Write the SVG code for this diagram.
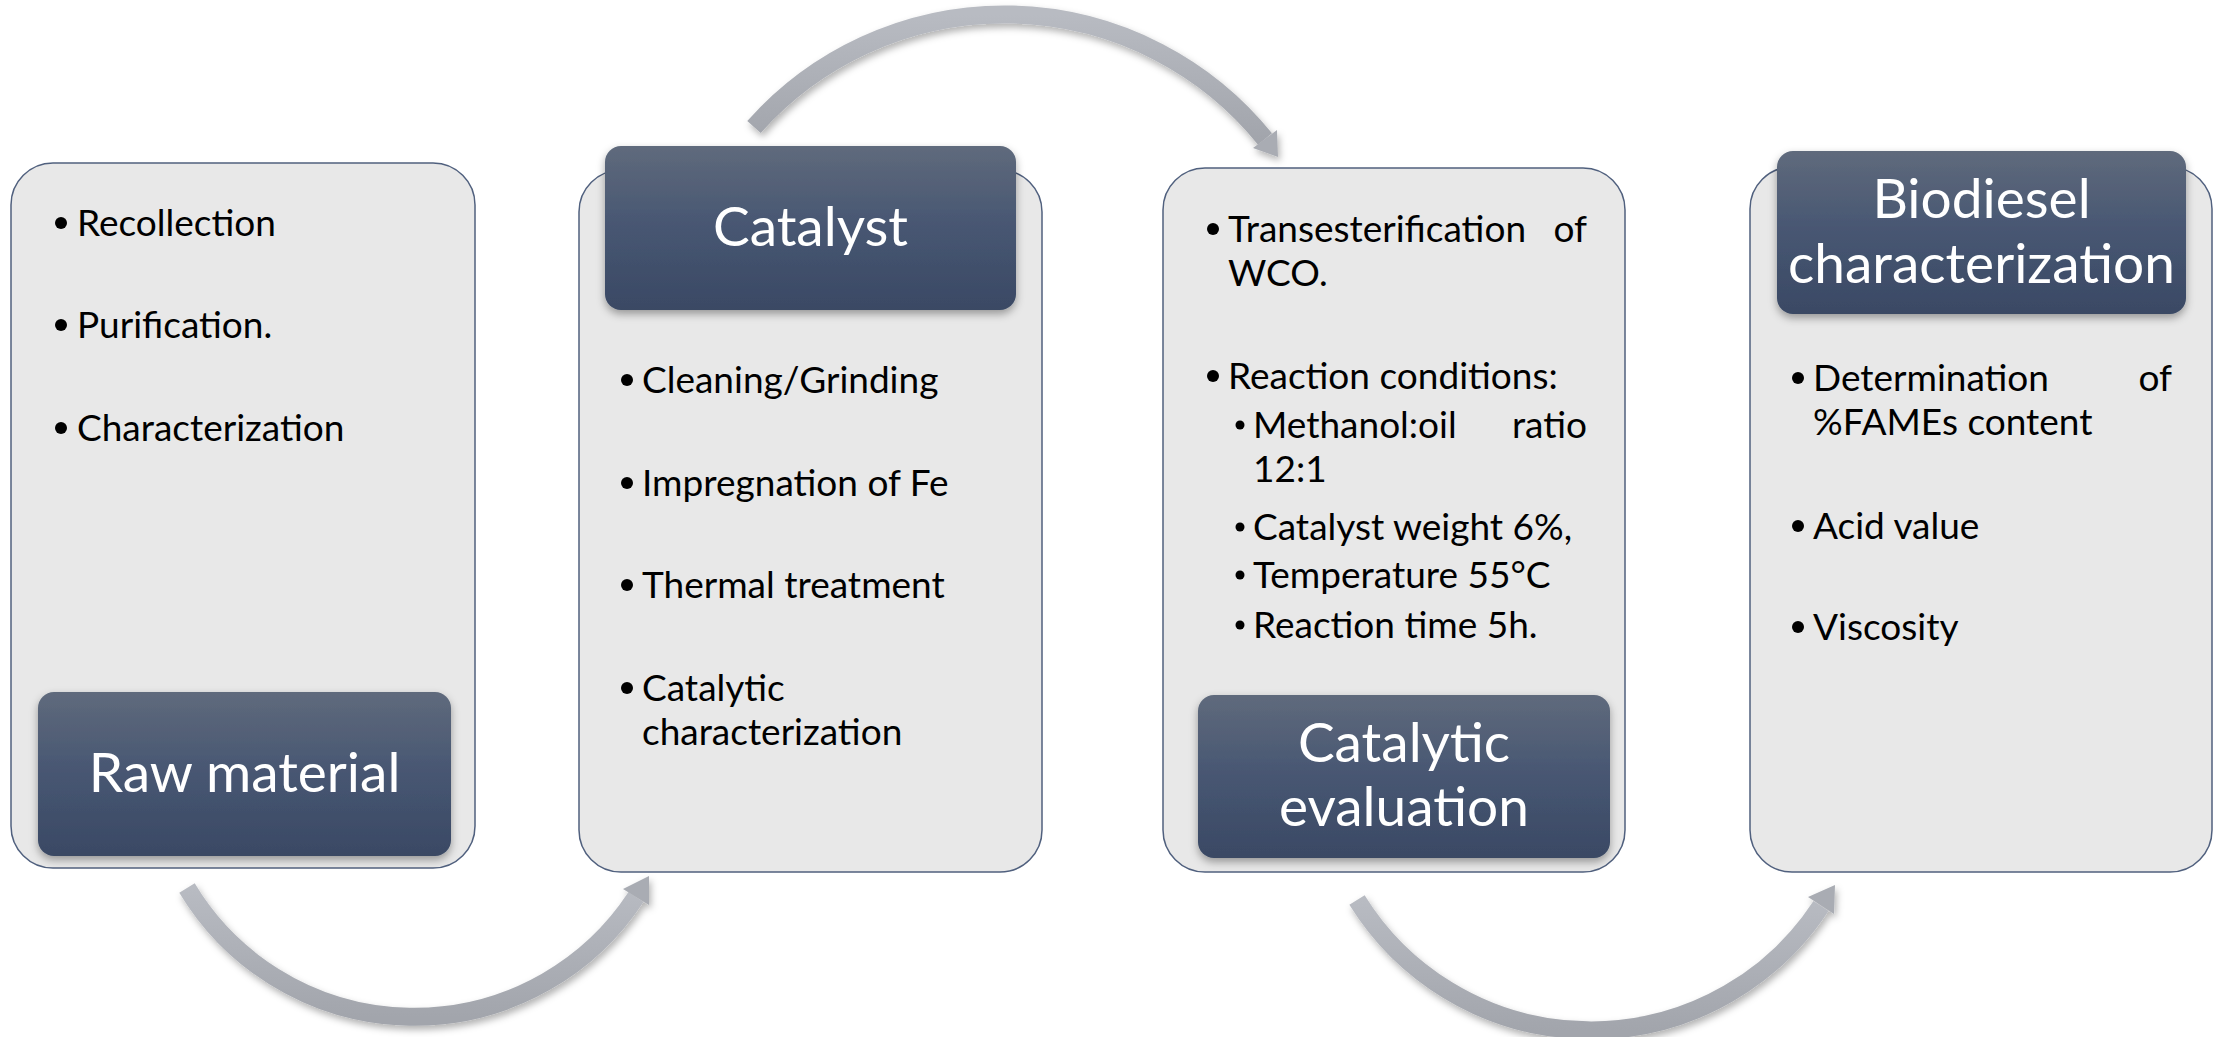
<svg xmlns="http://www.w3.org/2000/svg" width="2216" height="1037" viewBox="0 0 2216 1037">
  <defs>
    <style>
      .panel { fill: #e8e8e8; stroke: #50607e; stroke-width: 1.5; }
      .head { fill: url(#headFill); filter: url(#headShadow); }
      .ht { font-family: Lato, "Open Sans", "Liberation Sans", sans-serif; font-size: 55px; fill: #ffffff; text-anchor: middle; }
      .bt { font-family: Lato, "Open Sans", "Liberation Sans", sans-serif; font-size: 37px; fill: #000000; }
      .dot { fill: #000000; }
      .band { fill: none; stroke: url(#bandFill); stroke-width: 18; stroke-linecap: butt; }
      .tip { fill: #a9acb3; }
    </style>
    <linearGradient id="headFill" x1="0" y1="0" x2="0" y2="1">
      <stop offset="0" stop-color="#5f6a7c"/>
      <stop offset="0.5" stop-color="#475672"/>
      <stop offset="1" stop-color="#3a4964"/>
    </linearGradient>
    <linearGradient id="bandFill" x1="0" y1="0" x2="0" y2="1">
      <stop offset="0" stop-color="#b8bbc2"/>
      <stop offset="1" stop-color="#a2a5ac"/>
    </linearGradient>
    <filter id="headShadow" x="-10%" y="-10%" width="120%" height="130%">
      <feDropShadow dx="0" dy="4" stdDeviation="4" flood-color="#000" flood-opacity="0.35"/>
    </filter>
    <filter id="arrowShadow" x="-10%" y="-20%" width="120%" height="140%">
      <feDropShadow dx="2" dy="4" stdDeviation="3.5" flood-color="#000" flood-opacity="0.3"/>
    </filter>
  </defs>

  <rect width="2216" height="1037" fill="#ffffff"/>

  <!-- curved connectors between the stages -->
  <g id="connectors" filter="url(#arrowShadow)">
    <g id="arrow-raw-to-catalyst">
      <path class="band" d="M187,888 A265,265 0 0 0 636,897"/>
      <polygon class="tip" points="623,889 649,905 649,876"/>
    </g>
    <g id="arrow-catalyst-to-evaluation">
      <path class="band" d="M754,127 A335,335 0 0 1 1265,139"/>
      <polygon class="tip" points="1277,130 1253,148 1278,157"/>
    </g>
    <g id="arrow-evaluation-to-biodiesel">
      <path class="band" d="M1357,900 A275,275 0 0 0 1821,906"/>
      <polygon class="tip" points="1808,897 1834,914 1835,885"/>
    </g>
  </g>

  <!-- stage 1 -->
  <g id="raw-material">
    <rect class="panel" x="11" y="163" width="464" height="705" rx="42"/>
    <circle class="dot" cx="61" cy="223" r="6"/>
    <text class="bt" x="77" y="236">Recollection</text>
    <circle class="dot" cx="61" cy="325" r="6"/>
    <text class="bt" x="77" y="338">Purification.</text>
    <circle class="dot" cx="61" cy="428" r="6"/>
    <text class="bt" x="77" y="441">Characterization</text>
    <rect class="head" x="38" y="692" width="413" height="164" rx="16"/>
    <text class="ht" x="244.5" y="792">Raw material</text>
  </g>

  <!-- stage 2 -->
  <g id="catalyst">
    <rect class="panel" x="579" y="170" width="463" height="702" rx="42"/>
    <rect class="head" x="605" y="146" width="411" height="164" rx="16"/>
    <text class="ht" x="810.5" y="246">Catalyst</text>
    <circle class="dot" cx="627" cy="380" r="6"/>
    <text class="bt" x="642" y="393">Cleaning/Grinding</text>
    <circle class="dot" cx="627" cy="483" r="6"/>
    <text class="bt" x="642" y="496">Impregnation of Fe</text>
    <circle class="dot" cx="627" cy="585" r="6"/>
    <text class="bt" x="642" y="598">Thermal treatment</text>
    <circle class="dot" cx="627" cy="688" r="6"/>
    <text class="bt" x="642" y="701">Catalytic</text>
    <text class="bt" x="642" y="745">characterization</text>
  </g>

  <!-- stage 3 -->
  <g id="catalytic-evaluation">
    <rect class="panel" x="1163" y="168" width="462" height="704" rx="42"/>
    <circle class="dot" cx="1213" cy="229" r="6"/>
    <text class="bt" x="1228" y="242">Transesterification</text>
    <text class="bt" x="1587" y="242" text-anchor="end">of</text>
    <text class="bt" x="1228" y="286">WCO.</text>
    <circle class="dot" cx="1213" cy="376" r="6"/>
    <text class="bt" x="1228" y="389">Reaction conditions:</text>
    <circle class="dot" cx="1240" cy="425" r="4.5"/>
    <text class="bt" x="1253" y="438">Methanol:oil</text>
    <text class="bt" x="1587" y="438" text-anchor="end">ratio</text>
    <text class="bt" x="1253" y="482">12:1</text>
    <circle class="dot" cx="1240" cy="527" r="4.5"/>
    <text class="bt" x="1253" y="540">Catalyst weight 6%,</text>
    <circle class="dot" cx="1240" cy="575" r="4.5"/>
    <text class="bt" x="1253" y="588">Temperature 55°C</text>
    <circle class="dot" cx="1240" cy="625" r="4.5"/>
    <text class="bt" x="1253" y="638">Reaction time 5h.</text>
    <rect class="head" x="1198" y="695" width="412" height="163" rx="16"/>
    <text class="ht" x="1404" y="762">Catalytic</text>
    <text class="ht" x="1404" y="826">evaluation</text>
  </g>

  <!-- stage 4 -->
  <g id="biodiesel-characterization">
    <rect class="panel" x="1750" y="167" width="462" height="705" rx="42"/>
    <rect class="head" x="1777" y="151" width="409" height="163" rx="16"/>
    <text class="ht" x="1981.5" y="218">Biodiesel</text>
    <text class="ht" x="1981.5" y="283">characterization</text>
    <circle class="dot" cx="1798" cy="378" r="6"/>
    <text class="bt" x="1813" y="391">Determination</text>
    <text class="bt" x="2172" y="391" text-anchor="end">of</text>
    <text class="bt" x="1813" y="435">%FAMEs content</text>
    <circle class="dot" cx="1798" cy="526" r="6"/>
    <text class="bt" x="1813" y="539">Acid value</text>
    <circle class="dot" cx="1798" cy="627" r="6"/>
    <text class="bt" x="1813" y="640">Viscosity</text>
  </g>
</svg>
